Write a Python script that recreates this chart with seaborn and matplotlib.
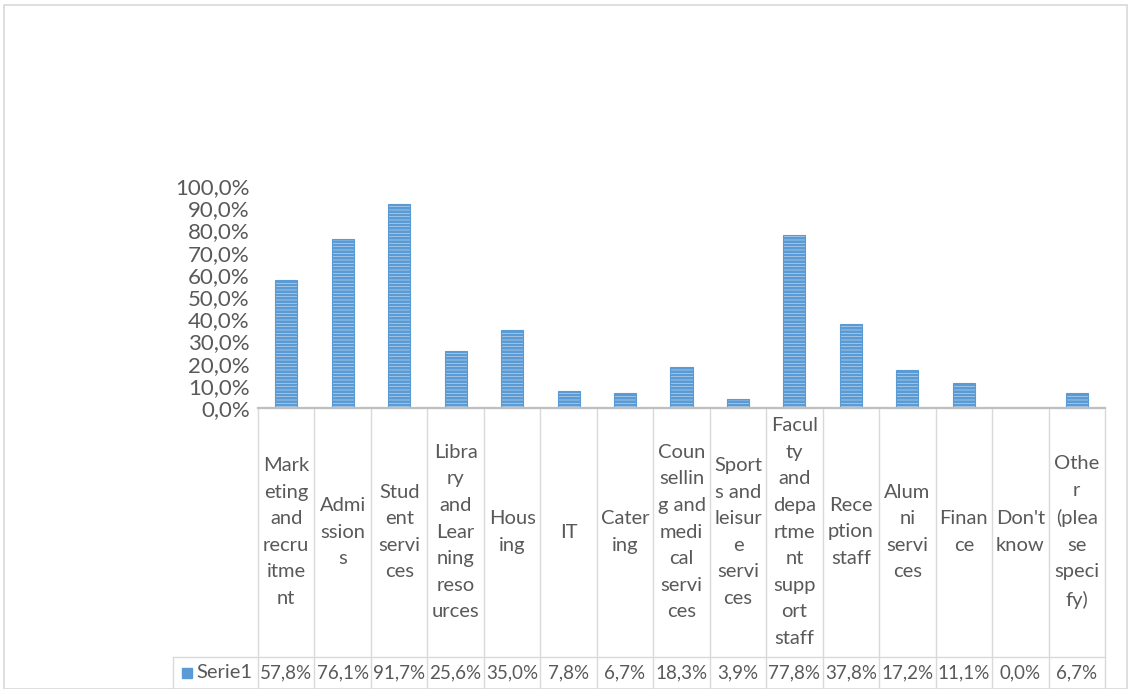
import matplotlib
matplotlib.use("Agg")
import matplotlib.pyplot as plt
import matplotlib.transforms as mtransforms
from matplotlib.lines import Line2D
from matplotlib.patches import Rectangle
import seaborn as sns
import pandas as pd

# category labels, wrapped the way they appear in the data table
categories = [
    "Mark\neting\nand\nrecru\nitme\nnt",
    "Admi\nssion\ns",
    "Stud\nent\nservi\nces",
    "Libra\nry\nand\nLear\nning\nreso\nurces",
    "Hous\ning",
    "IT",
    "Cater\ning",
    "Coun\nsellin\ng and\nmedi\ncal\nservi\nces",
    "Sport\ns and\nleisur\ne\nservi\nces",
    "Facul\nty\nand\ndepa\nrtme\nnt\nsupp\nort\nstaff",
    "Rece\nption\nstaff",
    "Alum\nni\nservi\nces",
    "Finan\nce",
    "Don't\nknow",
    "Othe\nr\n(plea\nse\nspeci\nfy)",
]
values = [57.8, 76.1, 91.7, 25.6, 35.0, 7.8, 6.7, 18.3, 3.9, 77.8, 37.8, 17.2, 11.1, 0.0, 6.7]
series_name = "Serie1"
yticks = list(range(0, 101, 10))

df = pd.DataFrame({"cat": categories, "val": values})

sns.set_style("white")
plt.rcParams["font.family"] = ["Lato", "DejaVu Sans"]
plt.rcParams["hatch.linewidth"] = 2.0
txt = "#595959"
grid = "#D9D9D9"
fs = 14.5

W, H = 1128, 689
fig = plt.figure(figsize=(W / 100, H / 100), dpi=100)
ax = fig.add_axes([258 / W, 1 - 408 / H, (1105 - 258) / W, (408 - 186) / H])

sns.barplot(data=df, x="cat", y="val", order=categories, color="#CFE2F5",
            width=0.39, edgecolor="#5B9BD5", linewidth=0.8, ax=ax)
for p in ax.patches:
    p.set_hatch("-----")

ax.set_xlim(-0.5, len(categories) - 0.5)
ax.set_ylim(0, 100)
ax.set_yticks(yticks)
ax.set_yticklabels([f"{v:.1f}%".replace(".", ",") for v in yticks], fontsize=16, color=txt)
ax.set_xticks([])
ax.set_xlabel("")
ax.set_ylabel("")
ax.tick_params(axis="y", length=0, pad=6)
for s in ["top", "right", "left"]:
    ax.spines[s].set_visible(False)
ax.spines["bottom"].set_color("#BFBFBF")
ax.spines["bottom"].set_linewidth(1.6)

# data table under the axis
tr = mtransforms.blended_transform_factory(ax.transData, fig.transFigure)
y_axis = 1 - 408 / H
y_sep = 1 - 657 / H
y_lab = 1 - 532 / H
y_val = 1 - 673 / H
for i in range(len(categories) + 1):
    ax.add_line(Line2D([i - 0.5, i - 0.5], [y_axis, 0], transform=tr, color=grid,
                       lw=1, clip_on=False))
fig.add_artist(Line2D([173 / W, 1105 / W], [y_sep, y_sep], color=grid, lw=1))
fig.add_artist(Line2D([173 / W, 173 / W], [y_sep, 0], color=grid, lw=1))
for i, (c, v) in enumerate(zip(categories, values)):
    ax.text(i, y_lab, c, transform=tr, ha="center", va="center", fontsize=fs,
            color=txt, linespacing=1.68, clip_on=False)
    ax.text(i, y_val, f"{v:.1f}%".replace(".", ","), transform=tr, ha="center",
            va="center", fontsize=13.5, color=txt, clip_on=False)

# legend key in the table
fig.add_artist(Rectangle((182 / W, 1 - 678 / H), 10 / W, 10 / H, facecolor="#5B9BD5",
                         edgecolor="#5B9BD5", transform=fig.transFigure))
fig.text(196 / W, y_val, series_name, ha="left", va="center", fontsize=14.5, color=txt)

# chart frame
fig.add_artist(Rectangle((4 / W, 0), 1 - 5 / W, 1 - 5 / H, fill=False, edgecolor=grid,
                         lw=1.2, transform=fig.transFigure))

fig.savefig("out.png", dpi=100)
